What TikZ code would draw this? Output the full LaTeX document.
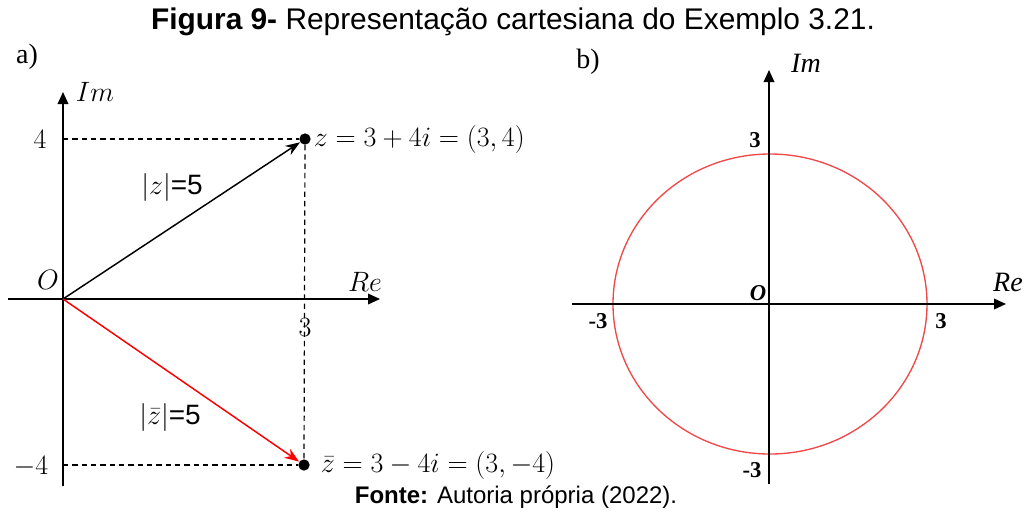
\RequirePackage{fix-cm}
\documentclass[tikz,border=0pt]{standalone}
\usepackage{amsmath,amssymb}
\usepackage{fontspec}
\setmainfont{Liberation Serif}
\setsansfont{Liberation Sans}
\usetikzlibrary{arrows.meta,positioning}
\definecolor{ringred}{RGB}{238,72,72}

\begin{document}
\begin{tikzpicture}[x=0.75pt,y=-0.75pt,
    axis/.style={-{Triangle[length=9pt,width=8pt]}, line width=1.1pt},
    guide/.style={line width=0.9pt, dash pattern=on 4pt off 3pt},
    vec/.style={-{Stealth[length=11pt,width=8pt]}, line width=1.1pt},
    dot/.style={circle, fill=black, inner sep=0pt, minimum size=8.5pt},
    lbl/.style={font=\fontsize{21}{25}\selectfont, inner sep=0pt},
    blbl/.style={font=\fontsize{17}{20}\selectfont\bfseries, inner sep=0pt},
    captxt/.style={font=\sffamily, inner sep=0pt}
]
\useasboundingbox (0,0) rectangle (1024,512);

\node[captxt, font=\fontsize{22.4}{26}\selectfont\sffamily] (title) at (513,22) {\textbf{Figura 9-} Representação cartesiana do Exemplo 3.21.};
\node[captxt, font=\fontsize{18}{21}\selectfont\sffamily] (fonte) at (516,497) {\textbf{Fonte:} Autoria própria (2022).};

% a)
\node[lbl] (la) at (27,57) {a)};
\coordinate (O) at (63,299);
\coordinate (xa0) at (8,299);
\coordinate (xa1) at (380,299);
\coordinate (ya0) at (63,486);
\coordinate (ya1) at (63,92);
\coordinate (y4) at (63,139);
\coordinate (ym4) at (63,465);
\node[dot] (z) at (305,139) {};
\node[dot] (zb) at (304,465) {};

\draw[axis] (xa0) -- (xa1);
\draw[axis] (ya0) -- (ya1);
\draw[guide] (y4) -- (z);
\draw[guide] (ym4) -- (zb);
\draw[guide] (z) -- (zb);
\draw[vec] (O) -- (z);
\draw[vec, red] (O) -- (zb);

\node[lbl, right=2pt of z] (zl) {$z=3+4i=(3,4)$};
\node[lbl, right=8pt of zb] (zbl) {$\bar{z}=3-4i=(3,-4)$};
\node[lbl] (t4) at (40,139) {$4$};
\node[lbl] (tm4) at (31,467) {$-4$};
\node[lbl] (t3) at (305,327) {$3$};
\node[lbl] (o1) at (48,280) {$O$};
\node[lbl] (re1) at (365,282) {$Re$};
\node[lbl] (im1) at (95,92) {$Im$};
\node[lbl] (m1) at (172,187) {$|z|$\textsf{=5}};
\node[lbl] (m2) at (170,417) {$|\bar{z}|$\textsf{=5}};

% b)
\node[lbl] (lb) at (588,62) {b)};
\coordinate (Ob) at (770,304);
\coordinate (xb0) at (572,304);
\coordinate (xb1) at (1006,304);
\coordinate (yb0) at (769,484);
\coordinate (yb1) at (769,70);

\draw[ringred, line width=1pt] (Ob) ellipse [x radius=157, y radius=150];
\draw[axis] (xb0) -- (xb1);
\draw[axis] (yb0) -- (yb1);

\node[blbl] (b3) at (755,140) {3};
\node[blbl] (bm3) at (598,321) {-3};
\node[blbl] (b3r) at (941,321) {3};
\node[blbl] (bm3d) at (752,470) {-3};
\node[blbl] (o2) at (758,293) {\textit{O}};
\node[lbl] (re2) at (1008,282) {\textit{Re}};
\node[lbl] (im2) at (806,63) {\textit{Im}};
\end{tikzpicture}
\end{document}
